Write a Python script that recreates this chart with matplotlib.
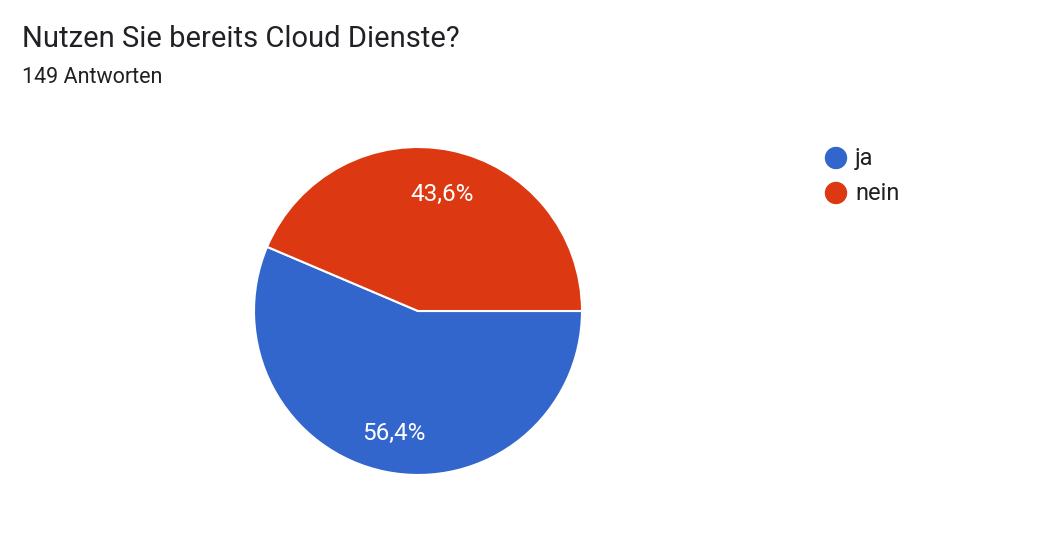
import matplotlib.pyplot as plt
from matplotlib.patches import Ellipse

labels = ['ja', 'nein']
values = [56.4, 43.6]
colors = ['#3366CC', '#DC3912']

plt.rcParams['font.family'] = ['Roboto', 'DejaVu Sans']

fig = plt.figure(figsize=(10.39, 5.34), dpi=100)
W, H = 1039, 534
cx, cy, r = 418, 311, 164
ax = fig.add_axes([(cx - r) / W, (H - cy - r) / H, 2 * r / W, 2 * r / H])

wedges, texts, autotexts = ax.pie(
    values, colors=colors, startangle=0, counterclock=False,
    autopct=lambda p: f'{p:.1f}%'.replace('.', ','), pctdistance=0.745,
    wedgeprops=dict(edgecolor='white', linewidth=1.5),
    textprops=dict(color='white', fontsize=17.5))
# nudge percentages a touch lower, as in the original
for t in autotexts:
    x, y = t.get_position()
    t.set_position((x, y - 0.018))
ax.set_xlim(-1, 1)
ax.set_ylim(-1, 1)
ax.set_aspect('auto')
ax.axis('off')

fig.text(22 / W, 1 - 39 / H, 'Nutzen Sie bereits Cloud Dienste?', fontsize=21,
         color='#202124', va='center', ha='left')
fig.text(22 / W, 1 - 77.5 / H, '149 Antworten', fontsize=15.5,
         color='#202124', va='center', ha='left')

# legend: round markers + labels
legend_y = [158, 193]
for lab, c, y in zip(labels, colors, legend_y):
    fig.add_artist(Ellipse((836 / W, 1 - y / H), 21 / W, 21 / H,
                           transform=fig.transFigure, color=c))
    fig.text(855 / W, 1 - y / H, lab, fontsize=17, color='#202124',
             va='center', ha='left')

plt.savefig('out.png', dpi=100)
plt.close()
